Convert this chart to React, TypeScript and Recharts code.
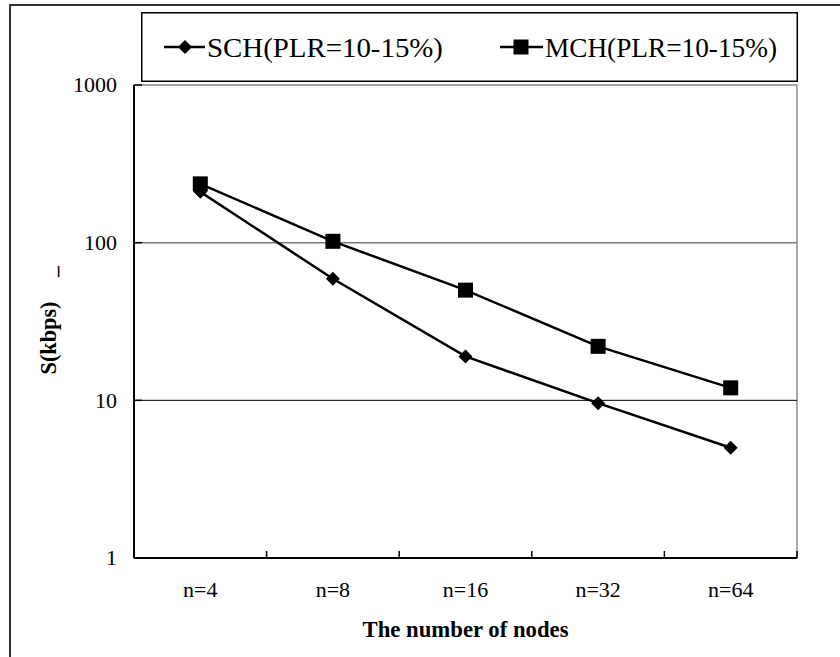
import React from 'react';
import { LineChart, Line, XAxis, YAxis, ReferenceLine, ReferenceArea, Legend } from 'recharts';

const categories = ['n=4', 'n=8', 'n=16', 'n=32', 'n=64'];
const schValues = [210, 59, 19, 9.6, 5];
const mchValues = [236, 102, 50, 22, 12];
const yTicks = [1, 10, 100, 1000];
const schName = 'SCH(PLR=10-15%)';
const mchName = 'MCH(PLR=10-15%)';
const xTitle = 'The number of nodes';
const yTitle = 'S(kbps)';

const data = categories.map((c, i) => ({ cat: c, sch: schValues[i], mch: mchValues[i] }));

const FONT = '"Liberation Serif", "Times New Roman", Times, "DejaVu Serif", serif';

const Diamond = ({ cx, cy, s = 7 }: any) => {
  if (cx == null || cy == null) return null;
  return <path d={`M${cx},${cy - s} L${cx + s},${cy} L${cx},${cy + s} L${cx - s},${cy} Z`} fill="#000" />;
};
const Square = ({ cx, cy, s = 7.5 }: any) => {
  if (cx == null || cy == null) return null;
  return <rect x={cx - s} y={cy - s} width={2 * s} height={2 * s} fill="#000" />;
};

const YTick = ({ x, y, payload }: any) => (
  <g>
    <line x1={x} x2={x + 8} y1={y} y2={y} stroke="#000" strokeWidth={1.5} />
    <text x={x - 17} y={y} dy="0.34em" textAnchor="end" fontSize={22} fontFamily={FONT} fill="#000">
      {payload.value}
    </text>
  </g>
);

const XTick = ({ x, y, payload, index }: any) => {
  const half = payload && typeof payload.offset === 'number' && payload.offset > 0 ? payload.offset : 66.3;
  return (
    <g>
      {index > 0 && <line x1={x - half} x2={x - half} y1={y} y2={y - 7} stroke="#000" strokeWidth={1.5} />}
      {index === categories.length - 1 && (
        <line x1={x + half} x2={x + half} y1={y} y2={y - 7} stroke="#000" strokeWidth={1.5} />
      )}
      <text x={x} y={y + 39} textAnchor="middle" fontSize={22} fontFamily={FONT} fill="#000">
        {payload.value}
      </text>
    </g>
  );
};

const XTitle = ({ viewBox }: any) => {
  const { x, y, width } = viewBox;
  return (
    <text
      x={x + width / 2}
      y={y + 79}
      textAnchor="middle"
      fontSize={24}
      fontWeight="bold"
      fontFamily={FONT}
      fill="#000"
      textLength={206}
      lengthAdjust="spacingAndGlyphs"
    >
      {xTitle}
    </text>
  );
};

const YTitle = ({ viewBox }: any) => {
  const { x, y } = viewBox;
  const bx = x - 18.5;
  const cy = y + 253;
  const dashY = y + 192;
  return (
    <g>
      <text
        x={bx}
        y={cy}
        transform={`rotate(-90, ${bx}, ${cy})`}
        textAnchor="middle"
        fontSize={24}
        fontWeight="bold"
        fontFamily={FONT}
        fill="#000"
        textLength={73}
        lengthAdjust="spacingAndGlyphs"
      >
        {yTitle}
      </text>
      <text x={bx} y={dashY} transform={`rotate(-90, ${bx}, ${dashY})`} textAnchor="start" fontSize={22} fontWeight="bold" fontFamily={FONT} fill="#000">
        _
      </text>
    </g>
  );
};

const LegendBox = () => (
  <svg width={657} height={70} style={{ display: 'block' }}>
    <rect x={0.75} y={0.75} width={655.5} height={68.5} fill="#fff" stroke="#000" strokeWidth={1.5} />
    <line x1={23} x2={64} y1={35} y2={35} stroke="#000" strokeWidth={2.5} />
    <Diamond cx={44} cy={35} s={7} />
    <text x={66} y={45} fontSize={28} fontFamily={FONT} fill="#000" textLength={236} lengthAdjust="spacingAndGlyphs">
      {schName}
    </text>
    <line x1={359} x2={402} y1={35} y2={35} stroke="#000" strokeWidth={2.5} />
    <Square cx={380} cy={35} s={7.5} />
    <text x={404} y={45} fontSize={28} fontFamily={FONT} fill="#000" textLength={232} lengthAdjust="spacingAndGlyphs">
      {mchName}
    </text>
  </svg>
);

export default function App() {
  return (
    <div style={{ position: 'absolute', left: 0, top: 0, width: 840, height: 657, background: '#fff', overflow: 'hidden', fontFamily: FONT }}>
      <div
        style={{
          position: 'absolute',
          left: 9,
          top: 4,
          width: 840,
          height: 660,
          borderTop: '2px solid #333',
          borderLeft: '2px solid #333',
        }}
      />
      <div style={{ position: 'absolute', left: 0, top: 0 }}>
        <LineChart width={840} height={657} data={data} margin={{ top: 85, right: 43, bottom: 29, left: 74 }}>
          <ReferenceArea y1={1} y2={1000} fill="none" stroke="#8c8c8c" strokeWidth={1.5} fillOpacity={0} />
          <ReferenceLine y={100} stroke="#7a7a7a" strokeWidth={1.5} />
          <ReferenceLine y={10} stroke="#000" strokeWidth={1} />
          <XAxis
            dataKey="cat"
            scale="band"
            height={70}
            axisLine={{ stroke: '#000', strokeWidth: 2 }}
            tickLine={false}
            tickSize={0}
            tickMargin={0}
            tick={<XTick />}
            interval={0}
            label={<XTitle />}
          />
          <YAxis
            scale="log"
            domain={[1, 1000]}
            ticks={yTicks}
            allowDataOverflow
            width={60}
            axisLine={{ stroke: '#000', strokeWidth: 2 }}
            tickLine={false}
            tickSize={0}
            tickMargin={0}
            tick={<YTick />}
            interval={0}
            label={<YTitle />}
          />
          <Legend
            layout="horizontal"
            verticalAlign="middle"
            align="center"
            content={() => <LegendBox />}
            wrapperStyle={{ position: 'absolute', left: 141, top: 12, width: 657, height: 70 }}
          />
          <Line
            type="linear"
            dataKey="sch"
            name={schName}
            stroke="#000"
            strokeWidth={2.5}
            isAnimationActive={false}
            dot={(p: any) => <Diamond key={`d${p.index}`} cx={p.cx} cy={p.cy} s={7} />}
            activeDot={false}
          />
          <Line
            type="linear"
            dataKey="mch"
            name={mchName}
            stroke="#000"
            strokeWidth={2.5}
            isAnimationActive={false}
            dot={(p: any) => <Square key={`s${p.index}`} cx={p.cx} cy={p.cy} s={7.5} />}
            activeDot={false}
          />
        </LineChart>
      </div>
    </div>
  );
}
